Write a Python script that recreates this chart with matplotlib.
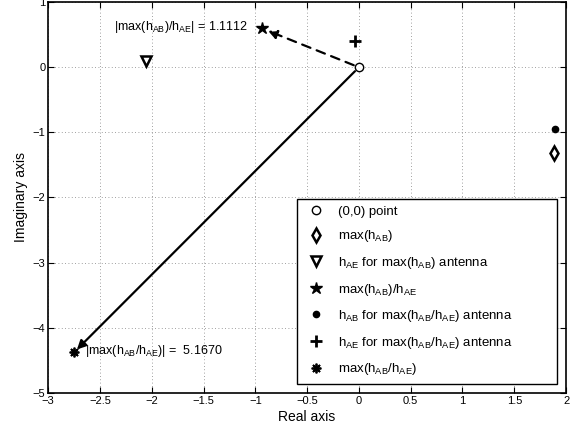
import matplotlib
matplotlib.use("Agg")
import matplotlib.pyplot as plt

plt.rcParams["font.family"] = ["Liberation Sans", "DejaVu Sans"]
plt.rcParams["mathtext.fontset"] = "custom"
plt.rcParams["mathtext.rm"] = "Liberation Sans"
plt.rcParams["mathtext.it"] = "Liberation Sans:italic"

# complex points (real, imag)
origin = (0.0, 0.0)
max_hab = (1.88, -1.32)
hae_for_max_hab = (-2.06, 0.09)
max_hab_over_hae = (-0.94, 0.60)
hab_for_max_ratio = (1.89, -0.95)
hae_for_max_ratio = (-0.04, 0.41)
max_ratio = (-2.75, -4.38)

ratio_text_1 = r"|max(h$_{\mathrm{AB}}$)/h$_{\mathrm{AE}}$| = 1.1112"
ratio_text_2 = r"|max(h$_{\mathrm{AB}}$/h$_{\mathrm{AE}}$)| =  5.1670"

labels = [
    "(0,0) point",
    r"max(h$_{\mathrm{AB}}$)",
    r"h$_{\mathrm{AE}}$ for max(h$_{\mathrm{AB}}$) antenna",
    r"max(h$_{\mathrm{AB}}$)/h$_{\mathrm{AE}}$",
    r"h$_{\mathrm{AB}}$ for max(h$_{\mathrm{AB}}$/h$_{\mathrm{AE}}$) antenna",
    r"h$_{\mathrm{AE}}$ for max(h$_{\mathrm{AB}}$/h$_{\mathrm{AE}}$) antenna",
    r"max(h$_{\mathrm{AB}}$/h$_{\mathrm{AE}}$)",
]

fig = plt.figure(figsize=(5.8, 4.34), dpi=100)
ax = fig.add_axes([0.083, 0.095, 0.893, 0.9])

# arrows first so markers sit on top
ax.annotate("", xy=max_ratio, xytext=origin,
            arrowprops=dict(arrowstyle="-|>", color="k", lw=1.6,
                            mutation_scale=13, shrinkA=4, shrinkB=3))
ax.annotate("", xy=max_hab_over_hae, xytext=origin,
            arrowprops=dict(arrowstyle="-|>", color="k", lw=1.6, ls=(0, (4, 3)),
                            mutation_scale=13, shrinkA=4, shrinkB=5))

kw = dict(ls="none", color="k")
h = []
h += ax.plot(*origin, marker="o", ms=6, mfc="w", mew=1.0, **kw)
h += ax.plot(*max_hab, marker="d", ms=7, mfc="w", mew=1.8, **kw)
h += ax.plot(*hae_for_max_hab, marker="v", ms=7, mfc="w", mew=1.8, **kw)
h += ax.plot(*max_hab_over_hae, marker="*", ms=9, mew=1.0, **kw)
h += ax.plot(*hab_for_max_ratio, marker="o", ms=4.5, **kw)
h += ax.plot(*hae_for_max_ratio, marker="+", ms=8, mew=2.0, **kw)
h += ax.plot(*max_ratio, marker=(8, 2, 0), ms=7, mew=1.3, **kw)

ax.annotate(ratio_text_1, xy=max_hab_over_hae, xytext=(-10, 1),
            textcoords="offset points", ha="right", va="center", fontsize=9)
ax.annotate(ratio_text_2, xy=max_ratio, xytext=(8, 1),
            textcoords="offset points", ha="left", va="center", fontsize=9)

ax.set_xlim(-3, 2)
ax.set_ylim(-5, 1)
ax.set_xticks([-3, -2.5, -2, -1.5, -1, -0.5, 0, 0.5, 1, 1.5, 2])
ax.set_xticklabels(["\u22123", "\u22122.5", "\u22122", "\u22121.5", "\u22121",
                    "\u22120.5", "0", "0.5", "1", "1.5", "2"])
ax.set_yticks([-5, -4, -3, -2, -1, 0, 1])
ax.set_yticklabels(["\u22125", "\u22124", "\u22123", "\u22122", "\u22121", "0", "1"])
ax.tick_params(direction="in", top=True, right=True, labelsize=8, length=4,
               width=0.8, pad=2)
ax.grid(True, ls=(0, (1, 3)), color="0.5", lw=0.6)
for s in ax.spines.values():
    s.set_linewidth(1.2)
ax.set_xlabel("Real axis", fontsize=10, labelpad=3)
ax.set_ylabel("Imaginary axis", fontsize=10, labelpad=3)

leg = ax.legend(h, labels, loc="lower left", bbox_to_anchor=(0.481, 0.023, 0.502, 0.4),
                mode="expand", fontsize=9.5, labelspacing=0.8,
                handletextpad=0.8, borderaxespad=0, fancybox=False,
                framealpha=1, edgecolor="k", handlelength=1.8, borderpad=0.5)
leg.get_frame().set_linewidth(1.0)

fig.savefig("out.png", dpi=100)
